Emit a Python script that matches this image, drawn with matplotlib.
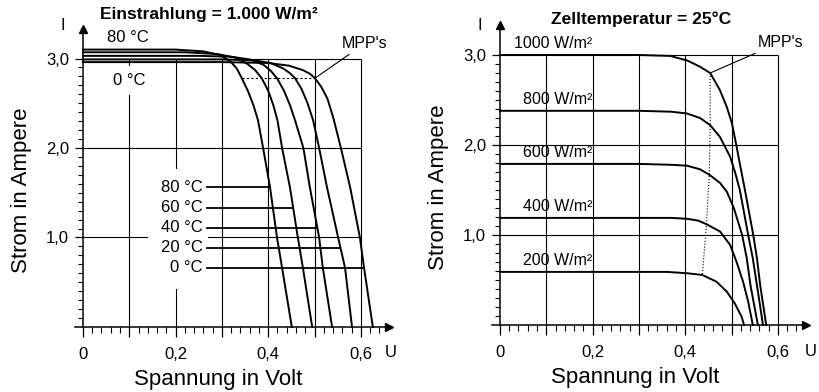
import matplotlib.pyplot as plt
import numpy as np
from matplotlib.patches import Rectangle
from matplotlib.ticker import FixedLocator, FuncFormatter

plt.rcParams['font.family'] = ['Liberation Sans', 'DejaVu Sans']

# --- left panel: I-U curves at 1000 W/m^2 for several cell temperatures ---
temp_labels = ['0 °C', '20 °C', '40 °C', '60 °C', '80 °C']
u_0c = [0, 0.30, 0.40, 0.445, 0.475, 0.490, 0.501, 0.515, 0.528, 0.541, 0.557, 0.577, 0.598, 0.607, 0.626]
i_0c = [2.96, 2.96, 2.95, 2.92, 2.87, 2.83, 2.78, 2.68, 2.55, 2.33, 2.00, 1.56, 1.00, 0.66, 0]
u_20c = [0, 0.30, 0.37, 0.405, 0.432, 0.446, 0.458, 0.472, 0.485, 0.497, 0.510, 0.527, 0.551, 0.566, 0.581]
i_20c = [2.99, 2.99, 2.98, 2.95, 2.89, 2.84, 2.78, 2.66, 2.50, 2.31, 2.00, 1.56, 1.00, 0.66, 0]
u_40c = [0, 0.25, 0.32, 0.36, 0.39, 0.406, 0.419, 0.434, 0.447, 0.458, 0.476, 0.490, 0.510, 0.518, 0.538]
i_40c = [3.03, 3.03, 3.02, 2.99, 2.93, 2.86, 2.78, 2.64, 2.48, 2.31, 2.00, 1.56, 1.00, 0.66, 0]
u_60c = [0, 0.22, 0.29, 0.33, 0.355, 0.372, 0.386, 0.400, 0.411, 0.420, 0.430, 0.447, 0.464, 0.475, 0.495]
i_60c = [3.07, 3.07, 3.05, 3.01, 2.94, 2.87, 2.78, 2.64, 2.48, 2.31, 2.00, 1.56, 1.00, 0.66, 0]
u_80c = [0, 0.20, 0.26, 0.295, 0.318, 0.332, 0.343, 0.356, 0.368, 0.378, 0.389, 0.404, 0.419, 0.430, 0.451]
i_80c = [3.10, 3.10, 3.08, 3.04, 2.97, 2.89, 2.78, 2.64, 2.48, 2.31, 2.00, 1.56, 1.00, 0.66, 0]
mpp_t_u = [0.343, 0.386, 0.419, 0.458, 0.501]
mpp_t_i = [2.78, 2.78, 2.78, 2.78, 2.78]

# --- right panel: I-U curves at 25 °C for several irradiances ---
irr_labels = ['1000 W/m²', '800 W/m²', '600 W/m²', '400 W/m²', '200 W/m²']
u_1000 = [0, 0.30, 0.367, 0.404, 0.432, 0.454, 0.475, 0.490, 0.501, 0.508, 0.529, 0.547, 0.555, 0.562, 0.575]
i_1000 = [3.00, 3.00, 2.99, 2.94, 2.87, 2.80, 2.61, 2.42, 2.24, 2.06, 1.50, 1.00, 0.74, 0.44, 0]
u_800 = [0, 0.30, 0.37, 0.404, 0.432, 0.454, 0.475, 0.497, 0.508, 0.518, 0.536, 0.546, 0.555, 0.568]
i_800 = [2.38, 2.38, 2.37, 2.35, 2.30, 2.22, 2.09, 1.87, 1.69, 1.50, 1.00, 0.74, 0.44, 0]
u_600 = [0, 0.30, 0.37, 0.404, 0.432, 0.452, 0.475, 0.490, 0.505, 0.523, 0.533, 0.541, 0.557]
i_600 = [1.79, 1.79, 1.78, 1.77, 1.73, 1.67, 1.58, 1.48, 1.30, 1.00, 0.74, 0.44, 0]
u_400 = [0, 0.30, 0.37, 0.404, 0.428, 0.446, 0.475, 0.497, 0.511, 0.525, 0.536, 0.546]
i_400 = [1.19, 1.19, 1.19, 1.18, 1.16, 1.12, 1.04, 0.89, 0.70, 0.48, 0.26, 0]
u_200 = [0, 0.30, 0.36, 0.404, 0.437, 0.468, 0.490, 0.507, 0.522, 0.527]
i_200 = [0.59, 0.59, 0.59, 0.575, 0.556, 0.48, 0.37, 0.24, 0.09, 0]
mpp_g_u = [0.454, 0.454, 0.452, 0.446, 0.437]
mpp_g_i = [2.80, 2.22, 1.67, 1.12, 0.556]

x_grid = [0.1, 0.2, 0.3, 0.4, 0.5, 0.6]
y_grid = [1.0, 2.0, 3.0]

fig = plt.figure(figsize=(8.2, 3.92), dpi=100)
ax1 = fig.add_axes([73.7 / 820, 54.3 / 392, 314.9 / 820, 308.7 / 392])
ax2 = fig.add_axes([490.7 / 820, 56.2 / 392, 314.9 / 820, 310.5 / 392])


def xfmt(v, pos):
    k = int(round(v * 10))
    if k % 2:
        return ''
    return '0' if k == 0 else f'{v:.1f}'.replace('.', ',')


def setup(ax):
    ax.set_xlim(-0.02, 0.66)
    ax.set_ylim(-0.12, 3.33)
    ax.spines['top'].set_visible(False)
    ax.spines['right'].set_visible(False)
    ax.spines['left'].set_position(('data', 0))
    ax.spines['bottom'].set_position(('data', 0))
    ax.spines['left'].set_bounds(0, 3.33)
    ax.spines['bottom'].set_bounds(-0.018, 0.66)
    for s in ('left', 'bottom'):
        ax.spines[s].set_linewidth(1.1)
    ax.plot(1, 0, '>k', ms=6, transform=ax.get_yaxis_transform(), clip_on=False)
    ax.plot(0, 1, '^k', ms=6, transform=ax.get_xaxis_transform(), clip_on=False)

    ax.xaxis.set_major_locator(FixedLocator(np.arange(0, 0.61, 0.1)))
    ax.xaxis.set_minor_locator(FixedLocator(np.arange(0.02, 0.65, 0.02)))
    ax.xaxis.set_major_formatter(FuncFormatter(xfmt))
    ax.yaxis.set_major_locator(FixedLocator(y_grid))
    ax.yaxis.set_minor_locator(FixedLocator(np.arange(0.1, 2.95, 0.1)))
    ax.yaxis.set_major_formatter(FuncFormatter(lambda v, p: f'{v:.1f}'.replace('.', ',')))
    ax.tick_params(axis='x', which='major', direction='out', length=7.5, width=0.9, pad=7, labelsize=12)
    ax.tick_params(axis='x', which='minor', direction='out', length=4.5, width=0.8)
    ax.tick_params(axis='y', which='major', direction='out', length=6, width=0.9, pad=4, labelsize=12)
    ax.tick_params(axis='y', which='minor', direction='out', length=3.5, width=0.8)

    ax.vlines(x_grid, 0, 3.0, colors='black', lw=0.8, zorder=1)
    ax.hlines(y_grid, 0, 0.6, colors='black', lw=0.8, zorder=1)

    ax.set_xlabel('Spannung in Volt', fontsize=16, va='center')
    ax.xaxis.set_label_coords(0.46, -0.134)
    ax.set_ylabel('Strom in Ampere', fontsize=16, va='center')
    ax.yaxis.set_label_coords(-0.166, 0.478)


setup(ax1)
setup(ax2)

# left panel
temp_u = [u_0c, u_20c, u_40c, u_60c, u_80c]
temp_i = [i_0c, i_20c, i_40c, i_60c, i_80c]
for u, i in zip(temp_u, temp_i):
    ax1.plot(u, i, color='black', lw=1.4, zorder=3)
ax1.plot(mpp_t_u, mpp_t_i, color='black', lw=0.8, ls=(0, (2, 2)), zorder=3)

ax1.add_patch(Rectangle((0.14, 0.42), 0.13, 1.35, fc='white', ec='none', zorder=2))
label_y = [0.66, 0.885, 1.11, 1.335, 1.56]
for lab, ly, u, i in zip(temp_labels, label_y, temp_u, temp_i):
    ax1.text(0.259, ly, lab, ha='right', va='center', fontsize=12, zorder=4)
    end = np.interp(ly, i[::-1], u[::-1])
    ax1.plot([0.268, end], [ly, ly], color='black', lw=1.3, zorder=4)

ax1.text(0.097, 3.24, '80 °C', ha='center', va='center', fontsize=12)
ax1.text(0.10, 2.76, '0 °C', ha='center', va='center', fontsize=12, zorder=2,
         bbox=dict(fc='white', ec='none', pad=5))
ax1.annotate("MPP's", xy=(mpp_t_u[-1], mpp_t_i[-1]), xytext=(0.609, 3.17),
             ha='center', va='center', fontsize=11.5, annotation_clip=False,
             arrowprops=dict(arrowstyle='-', lw=0.8, shrinkA=1, shrinkB=0))
ax1.text(0.272, 3.49, 'Einstrahlung = 1.000 W/m²', ha='center', va='center',
         fontsize=12.5, weight='bold', clip_on=False)
ax1.text(-0.043, 3.37, 'I', ha='center', va='center', fontsize=12, clip_on=False)
ax1.text(0.664, -0.28, 'U', ha='center', va='center', fontsize=12, clip_on=False)

# right panel
irr_u = [u_1000, u_800, u_600, u_400, u_200]
irr_i = [i_1000, i_800, i_600, i_400, i_200]
for lab, u, i in zip(irr_labels, irr_u, irr_i):
    ax2.plot(u, i, color='black', lw=1.4, zorder=3)
    ax2.text(0.199, i[0] + 0.13, lab, ha='right', va='center', fontsize=11.5)
ax2.plot(mpp_g_u, mpp_g_i, color='black', lw=0.8, ls=':', zorder=3)
ax2.annotate("MPP's", xy=(mpp_g_u[0], mpp_g_i[0]), xytext=(0.605, 3.14),
             ha='center', va='center', fontsize=11.5, annotation_clip=False,
             arrowprops=dict(arrowstyle='-', lw=0.8, shrinkA=1, shrinkB=0))
ax2.text(0.305, 3.40, 'Zelltemperatur = 25°C', ha='center', va='center',
         fontsize=12.5, weight='bold', clip_on=False)
ax2.text(-0.043, 3.33, 'I', ha='center', va='center', fontsize=12, clip_on=False)
ax2.text(0.672, -0.30, 'U', ha='center', va='center', fontsize=12, clip_on=False)

fig.savefig('out.png', dpi=100)
